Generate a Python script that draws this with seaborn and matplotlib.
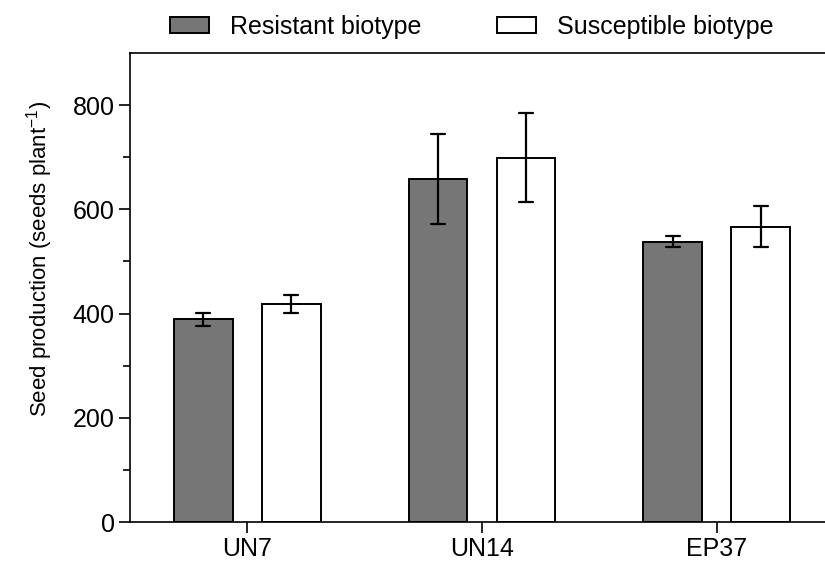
import matplotlib
matplotlib.use('Agg')
import matplotlib.pyplot as plt
from matplotlib.ticker import FixedLocator
import seaborn as sns
import pandas as pd

populations = ['UN7', 'UN14', 'EP37']
biotypes = ['Resistant biotype', 'Susceptible biotype']
resistant_mean = [389, 658, 538]
resistant_err = [12, 87, 11]
susceptible_mean = [418, 699, 567]
susceptible_err = [17, 85, 39]

COLORS = {'Resistant biotype': '#767676', 'Susceptible biotype': 'white'}


def build_frame():
    # two rows per bar (mean - err, mean + err): mean gives the bar, min/max the error bar
    rows = []
    for bio, means, errs in [(biotypes[0], resistant_mean, resistant_err),
                             (biotypes[1], susceptible_mean, susceptible_err)]:
        for pop, m, e in zip(populations, means, errs):
            rows.append({'population': pop, 'biotype': bio, 'seeds': m - e})
            rows.append({'population': pop, 'biotype': bio, 'seeds': m + e})
    return pd.DataFrame(rows)


def main():
    sns.set_theme(style='ticks')
    plt.rcParams['font.family'] = ['Liberation Sans', 'DejaVu Sans']
    plt.rcParams['mathtext.fontset'] = 'custom'
    plt.rcParams['mathtext.rm'] = 'Liberation Sans'
    for key in ['text.color', 'axes.labelcolor', 'xtick.color', 'ytick.color']:
        plt.rcParams[key] = 'black'

    df = build_frame()
    fig = plt.figure(figsize=(8.25, 5.62), dpi=100)
    ax = fig.add_axes([130 / 825, 40 / 562, 704 / 825, 469 / 562])

    sns.barplot(
        data=df, x='population', y='seeds', hue='biotype',
        order=populations, hue_order=biotypes, palette=COLORS,
        estimator='mean', errorbar=lambda v: (v.min(), v.max()),
        width=0.75, gap=0.333, edgecolor='black', linewidth=1.4,
        capsize=0.122, err_kws={'color': 'black', 'linewidth': 1.6},
        saturation=1, ax=ax,
    )

    ax.set_xlim(-0.5, 2.5)
    ax.set_ylim(0, 900)
    ax.set_yticks([0, 200, 400, 600, 800])
    ax.yaxis.set_minor_locator(FixedLocator([100, 300, 500, 700]))
    ax.tick_params(axis='both', which='major', labelsize=18, length=8, width=1.2, color='black', pad=3)
    ax.tick_params(axis='y', which='minor', length=5, width=1.2, color='black')
    for side in ['left', 'bottom', 'top']:
        ax.spines[side].set_visible(True)
        ax.spines[side].set_linewidth(1.2)
        ax.spines[side].set_color('black')
    ax.spines['right'].set_visible(False)

    ax.set_xlabel('')
    ax.set_ylabel(r'Seed production (seeds plant$^{\mathregular{-1}}$)', fontsize=16)
    ax.yaxis.set_label_coords(-0.107, 0.561)

    handles, labels = ax.get_legend_handles_labels()
    ax.get_legend().remove()
    fig.legend(handles, labels, loc='center', bbox_to_anchor=(0.572, 0.952),
               ncol=2, frameon=False, fontsize=18, handlelength=1.56,
               handleheight=0.64, handletextpad=0.84, columnspacing=3.0)

    fig.savefig('out.png', dpi=100)


if __name__ == '__main__':
    main()
